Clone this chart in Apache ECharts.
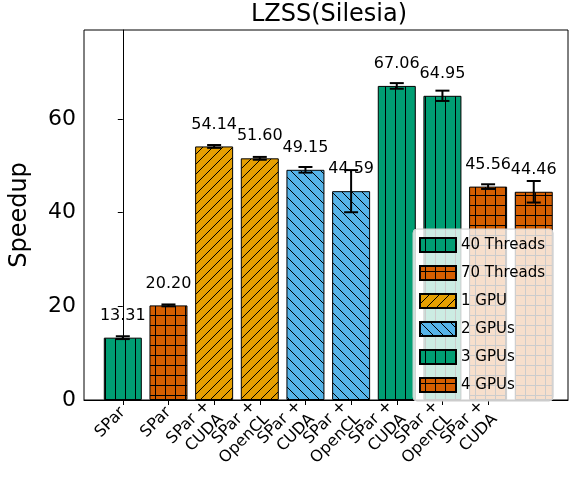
<!DOCTYPE html>
<html><head><meta charset="utf-8">
<script src="https://cdn.jsdelivr.net/npm/echarts@6/dist/echarts.min.js"></script>
<style>html,body{margin:0;padding:0;background:#fff}#c{width:578px;height:497px}</style>
</head><body><div id="c"></div>
<script>
var categories = ['SPar', 'SPar', 'SPar +\nCUDA', 'SPar +\nOpenCL', 'SPar +\nCUDA', 'SPar +\nOpenCL', 'SPar +\nCUDA', 'SPar +\nOpenCL', 'SPar +\nCUDA', 'SPar +\nOpenCL'];
var values = [13.31, 20.20, 54.14, 51.60, 49.15, 44.59, 67.06, 64.95, 45.56, 44.46];
var errors = [0.3, 0.2, 0.3, 0.3, 0.6, 4.5, 0.6, 1.1, 0.5, 2.3];
var groupNames = ['40 Threads', '70 Threads', '1 GPU', '2 GPUs', '3 GPUs', '4 GPUs'];
var groupIndex = [0, 1, 2, 2, 3, 3, 4, 4, 5, 5];
var groupColors = ['#009E73', '#D55E00', '#E69F00', '#56B4E9', '#009E73', '#D55E00'];
var groupHatch = ['|', '+', '/', '\\', '|', '+'];
var positions = categories.map(function (c, i) { return i; });

function pattern(color, hatch) {
  var s = 10, c = document.createElement('canvas');
  c.width = s; c.height = s;
  var g = c.getContext('2d');
  g.fillStyle = color; g.fillRect(0, 0, s, s);
  g.strokeStyle = '#000'; g.lineWidth = 1;
  g.beginPath();
  if (hatch === '|' || hatch === '+') { g.moveTo(5.5, 0); g.lineTo(5.5, s); }
  if (hatch === '+') { g.moveTo(0, 5.5); g.lineTo(s, 5.5); }
  if (hatch === '/') { g.moveTo(0, s); g.lineTo(s, 0); g.moveTo(-5, 5); g.lineTo(5, -5); g.moveTo(5, 15); g.lineTo(15, 5); }
  if (hatch === '\\') { g.moveTo(0, 0); g.lineTo(s, s); g.moveTo(-5, 5); g.lineTo(5, 15); g.moveTo(5, -5); g.lineTo(15, 5); }
  g.stroke();
  return { image: c, repeat: 'repeat' };
}

var series = groupNames.map(function (name, gi) {
  return {
    name: name, type: 'bar', barWidth: 38, barGap: '-100%',
    itemStyle: { color: pattern(groupColors[gi], groupHatch[gi]), borderColor: '#000', borderWidth: 1 },
    label: { show: true, position: 'top', distance: 14, fontSize: 16, color: '#000', fontFamily: 'DejaVu Sans',
      formatter: function (p) { return p.value[1].toFixed(2); } },
    data: values.map(function (v, i) { return groupIndex[i] === gi ? [positions[i], v] : null; })
      .filter(function (d) { return d; })
  };
});
series.push({
  type: 'custom', z: 10, silent: true,
  data: values.map(function (v, i) { return [positions[i], v - errors[i], v + errors[i]]; }),
  renderItem: function (params, api) {
    var lo = api.coord([api.value(0), api.value(1)]);
    var hi = api.coord([api.value(0), api.value(2)]);
    var w = 7, st = { stroke: '#000', lineWidth: 2 };
    return { type: 'group', children: [
      { type: 'line', shape: { x1: lo[0], y1: lo[1], x2: hi[0], y2: hi[1] }, style: st },
      { type: 'line', shape: { x1: lo[0] - w, y1: lo[1], x2: lo[0] + w, y2: lo[1] }, style: st },
      { type: 'line', shape: { x1: hi[0] - w, y1: hi[1], x2: hi[0] + w, y2: hi[1] }, style: st }
    ] };
  }
});

var chart = echarts.init(document.getElementById('c'));
chart.setOption({
  animation: false,
  textStyle: { fontFamily: 'DejaVu Sans' },
  title: { text: 'LZSS(Silesia)', left: 324, top: -2, textAlign: 'center',
    textStyle: { fontSize: 24, fontWeight: 'normal', color: '#000', fontFamily: 'DejaVu Sans' } },
  grid: { left: 80, right: 10, top: 30, bottom: 97, show: true, borderColor: '#000', borderWidth: 1 },
  legend: {
    orient: 'vertical', left: 413, top: 229, data: groupNames,
    itemWidth: 36, itemHeight: 14, itemGap: 12, icon: 'rect',
    padding: [8, 8, 8, 6],
    backgroundColor: 'rgba(255,255,255,0.8)', borderColor: '#ccc', borderWidth: 1, borderRadius: 4,
    textStyle: { fontSize: 15, color: '#000' }
  },
  xAxis: {
    type: 'value', min: -0.85, max: 9.75,
    splitLine: { show: false },
    axisLine: { lineStyle: { color: '#000' } },
    axisTick: { customValues: positions, lineStyle: { color: '#000' } },
    axisLabel: { customValues: positions, rotate: 45, fontSize: 16, color: '#000', margin: 10, lineHeight: 19,
      formatter: function (v) { return categories[Math.round(v)]; } }
  },
  yAxis: {
    type: 'value', min: 0, max: 79, interval: 20,
    name: 'Speedup', nameLocation: 'middle', nameGap: 52,
    nameTextStyle: { fontSize: 24, color: '#000' },
    axisLine: { show: true, lineStyle: { color: '#000' } },
    axisTick: { show: true, lineStyle: { color: '#000' } },
    axisLabel: { fontSize: 22, color: '#000', showMaxLabel: false },
    splitLine: { show: false }
  },
  series: series
});
</script></body></html>
